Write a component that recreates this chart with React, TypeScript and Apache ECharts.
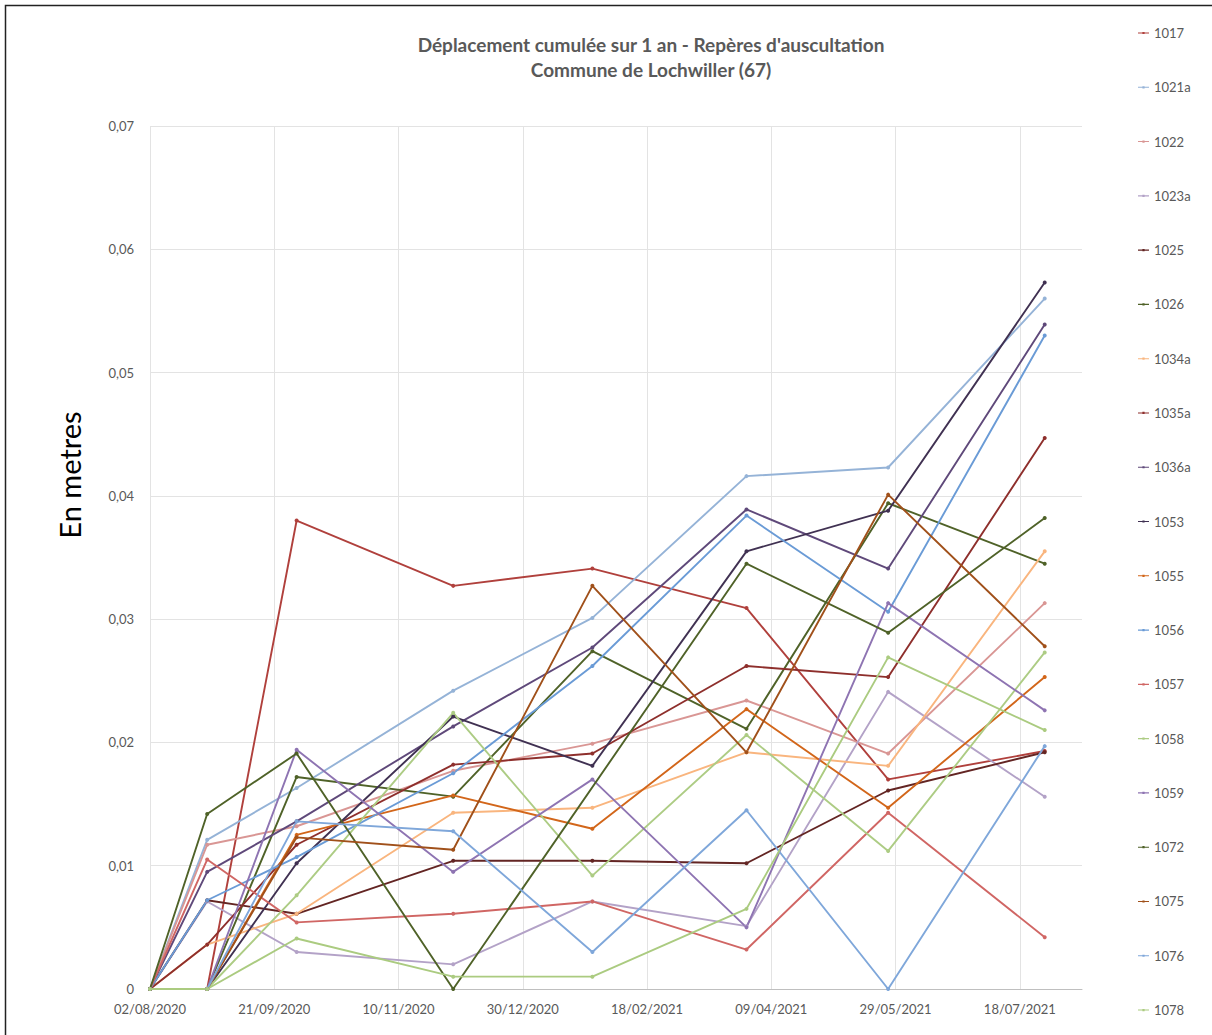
import React, { useEffect, useRef } from 'react';
import * as echarts from 'echarts';

// ---- data ----
const dates = ['02/08/2020', '25/08/2020', '30/09/2020', '02/12/2020', '27/01/2021', '30/03/2021', '26/05/2021', '28/07/2021'];
const axisStartDate = '02/08/2020';
const axisSpanDays = 375;
const tickStepDays = 50;

const seriesNames = ['1017', '1021a', '1022', '1023a', '1025', '1026', '1034a', '1035a', '1036a', '1053', '1055', '1056', '1057', '1058', '1059', '1072', '1075', '1076', '1078'];

const v1017 = [0, 0, 0.0380, 0.0327, 0.0341, 0.0309, 0.0170, 0.0193];
const v1021a = [0, 0.0121, 0.0163, 0.0242, 0.0301, 0.0416, 0.0423, 0.0560];
const v1022 = [0, 0.0117, 0.0132, 0.0177, 0.0199, 0.0234, 0.0191, 0.0313];
const v1023a = [0, 0.0071, 0.0030, 0.0020, 0.0071, 0.0051, 0.0241, 0.0156];
const v1025 = [0, 0.0072, 0.0061, 0.0104, 0.0104, 0.0102, 0.0161, 0.0192];
const v1026 = [0, 0, 0.0172, 0.0156, 0.0274, 0.0211, 0.0394, 0.0345];
const v1034a = [0, 0.0036, 0.0061, 0.0143, 0.0147, 0.0192, 0.0181, 0.0355];
const v1035a = [0, 0.0036, 0.0117, 0.0182, 0.0191, 0.0262, 0.0253, 0.0447];
const v1036a = [0, 0.0095, 0.0136, 0.0213, 0.0277, 0.0389, 0.0341, 0.0539];
const v1053 = [0, 0, 0.0102, 0.0221, 0.0181, 0.0355, 0.0388, 0.0573];
const v1055 = [0, 0, 0.0125, 0.0157, 0.0130, 0.0227, 0.0147, 0.0253];
const v1056 = [0, 0.0072, 0.0107, 0.0175, 0.0262, 0.0384, 0.0306, 0.0530];
const v1057 = [0, 0.0105, 0.0054, 0.0061, 0.0071, 0.0032, 0.0143, 0.0042];
const v1058 = [0, 0, 0.0076, 0.0224, 0.0092, 0.0206, 0.0112, 0.0273];
const v1059 = [0, 0, 0.0194, 0.0095, 0.0170, 0.0050, 0.0313, 0.0226];
const v1072 = [0, 0.0142, 0.0191, 0, null, 0.0345, 0.0289, 0.0382];
const v1075 = [0, 0, 0.0123, 0.0113, 0.0327, 0.0192, 0.0401, 0.0278];
const v1076 = [0, 0, 0.0136, 0.0128, 0.0030, 0.0145, 0, 0.0197];
const v1078 = [0, 0, 0.0041, 0.0010, 0.0010, 0.0065, 0.0269, 0.0210];

const seriesValues = [v1017, v1021a, v1022, v1023a, v1025, v1026, v1034a, v1035a, v1036a, v1053, v1055, v1056, v1057, v1058, v1059, v1072, v1075, v1076, v1078];

const seriesColors = ['#B0403C', '#95B3D7', '#D99694', '#B3A2C7', '#632523', '#4F6228', '#F9B57E', '#8E2F2C', '#5F497A', '#403152', '#D2661A', '#6A9BD6', '#D06664', '#ADCC84', '#8E74B2', '#4F6228', '#A0501A', '#7FA7DA', '#ABCB80'];

const titleLines = ["Déplacement cumulée sur 1 an - Repères d'auscultation", 'Commune de Lochwiller (67)'];
const yAxisTitle = 'En metres';

// ---- helpers ----
const DAY = 86400000;
function parseDate(s: string): number {
  const [d, m, y] = s.split('/').map(Number);
  return Date.UTC(y, m - 1, d);
}
const t0 = parseDate(axisStartDate);
function dayOffset(s: string): number {
  return Math.round((parseDate(s) - t0) / DAY);
}
function formatDay(off: number): string {
  const dt = new Date(t0 + off * DAY);
  const dd = String(dt.getUTCDate()).padStart(2, '0');
  const mm = String(dt.getUTCMonth() + 1).padStart(2, '0');
  return `${dd}/${mm}/${dt.getUTCFullYear()}`;
}

const FONT = 'Lato, "Open Sans", sans-serif';
const LEGEND_ICON = 'path://M0,2.3H14V3.7H0Z M5.6,1.6H8.4V4.4H5.6Z';

export default function App() {
  const ref = useRef<HTMLDivElement>(null);
  useEffect(() => {
    if (!ref.current) return;
    const chart = echarts.init(ref.current, undefined, { renderer: 'svg' });
    const xs = dates.map(dayOffset);
    const series = seriesNames.map((name, i) => ({
      name,
      type: 'line',
      data: xs.map((x, j) => [x, seriesValues[i][j] === null ? '-' : seriesValues[i][j]]),
      connectNulls: true,
      symbol: 'circle',
      symbolSize: 4,
      showSymbol: true,
      color: seriesColors[i],
      lineStyle: { width: 1.9, color: seriesColors[i] },
      itemStyle: { color: seriesColors[i] },
      emphasis: { disabled: true },
    }));
    chart.setOption({
      animation: false,
      backgroundColor: '#ffffff',
      textStyle: { fontFamily: FONT },
      grid: { left: 150, right: 130, top: 126, bottom: 46, containLabel: false },
      xAxis: {
        type: 'value',
        min: 0,
        max: axisSpanDays,
        interval: tickStepDays,
        axisLine: { show: true, lineStyle: { color: '#BFBFBF', width: 1 } },
        axisTick: { show: false },
        axisLabel: {
          formatter: (v: number) => formatDay(v),
          color: '#595959',
          fontSize: 13,
          fontFamily: FONT,
          margin: 13,
          showMaxLabel: false,
        },
        splitLine: { show: true, showMaxLine: false, lineStyle: { color: '#E3E3E3', width: 1 } },
      },
      yAxis: {
        type: 'value',
        min: 0,
        max: 0.07,
        interval: 0.01,
        axisLine: { show: false },
        axisTick: { show: false },
        axisLabel: {
          formatter: (v: number) => (v === 0 ? '0' : v.toFixed(2).replace('.', ',')),
          color: '#595959',
          fontSize: 13,
          fontFamily: FONT,
          margin: 16,
        },
        splitLine: { show: true, lineStyle: { color: '#E3E3E3', width: 1 } },
      },
      legend: {
        type: 'plain',
        orient: 'vertical',
        left: 1133,
        top: 21,
        icon: LEGEND_ICON,
        itemWidth: 11,
        itemHeight: 5,
        itemGap: 40.28,
        data: seriesNames,
        textStyle: { color: '#595959', fontSize: 13, fontFamily: FONT, lineHeight: 14 },
        selectedMode: false,
      },
      graphic: [
        {
          type: 'rect',
          silent: true,
          z: -10,
          shape: { x: 5.5, y: 5.5, width: 1400, height: 1200 },
          style: { fill: 'none', stroke: '#222', lineWidth: 1.5 },
        },
        {
          type: 'text',
          x: 651,
          y: 44,
          style: { text: titleLines[0], fill: '#595959', font: `bold 19px ${FONT}`, textAlign: 'center', textVerticalAlign: 'middle' },
        },
        {
          type: 'text',
          x: 651,
          y: 69,
          style: { text: titleLines[1], fill: '#595959', font: `bold 19px ${FONT}`, textAlign: 'center', textVerticalAlign: 'middle' },
        },
        {
          type: 'text',
          x: 69,
          y: 475,
          rotation: Math.PI / 2,
          style: { text: yAxisTitle, fill: '#000000', font: `29px ${FONT}`, textAlign: 'center', textVerticalAlign: 'middle' },
        },
      ],
      series,
    });
    return () => chart.dispose();
  }, []);
  return (
    <div
      ref={ref}
      style={{ position: 'fixed', left: 0, top: 0, width: 1212, height: 1035, background: '#fff' }}
    />
  );
}
